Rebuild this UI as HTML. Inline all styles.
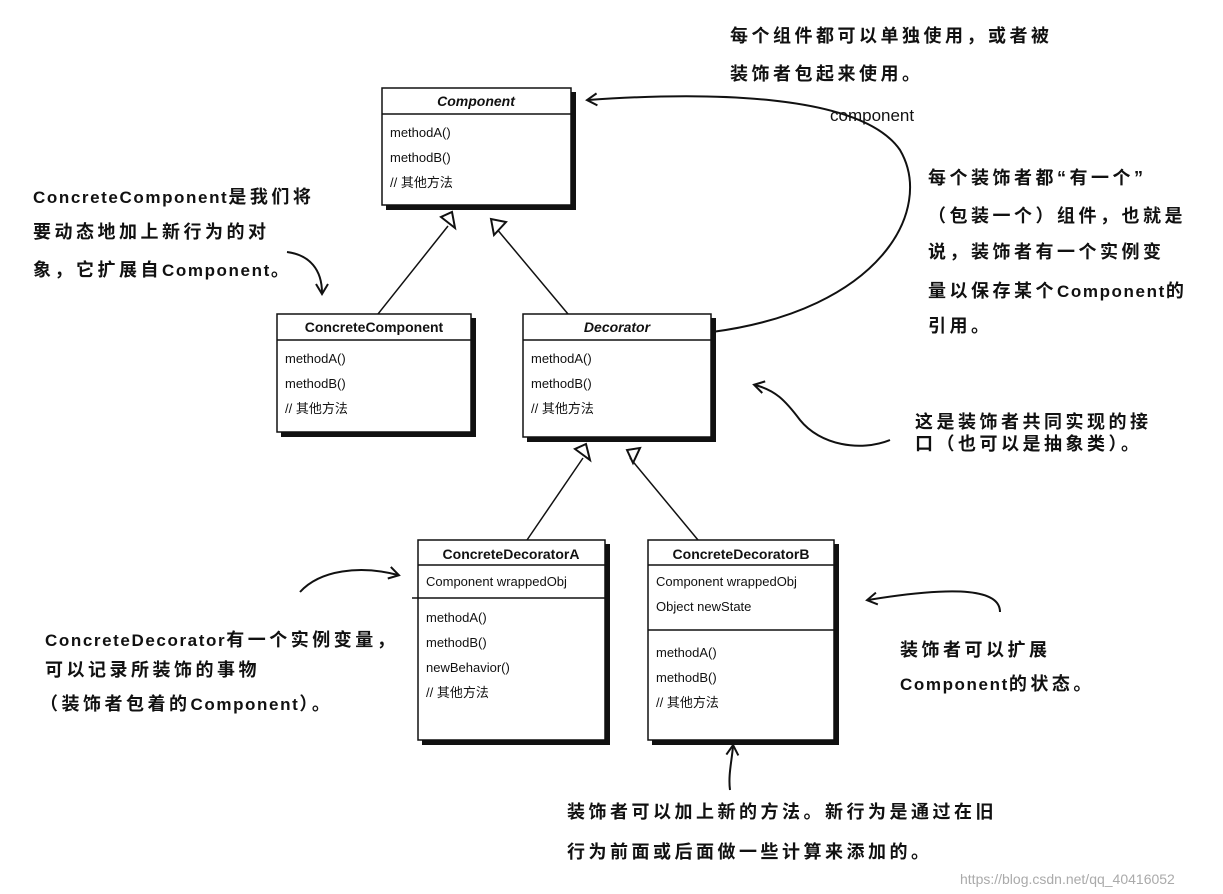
<!DOCTYPE html>
<html><head><meta charset="utf-8"><style>
body{margin:0;background:#fff;width:1223px;height:894px;overflow:hidden;position:relative}
.h{position:absolute;font-family:"Liberation Sans","WenQuanYi Zen Hei","Noto Sans CJK SC",sans-serif;font-size:18px;letter-spacing:3.5px;color:#111;white-space:nowrap;font-weight:bold}
.h i{font-style:normal;letter-spacing:1.6px;font-size:17px}
</style></head><body>
<svg width="1223" height="894" style="position:absolute;left:0;top:0" font-family="Liberation Sans, Noto Sans CJK SC, sans-serif">
<defs><marker id="o" markerWidth="14" markerHeight="14" refX="10" refY="7" orient="auto" markerUnits="userSpaceOnUse"><path d="M1,1 L11,7 L1,13" fill="none" stroke="#111" stroke-width="2"/></marker></defs>
<g stroke="#111" fill="#fff" stroke-width="1.5">
<g fill="#111" stroke="none">
<rect x="386" y="92" width="190" height="118"/><rect x="281" y="318" width="195" height="119"/><rect x="527" y="318" width="189" height="124"/><rect x="422" y="544" width="188" height="201"/><rect x="652" y="544" width="187" height="201"/></g>
<rect x="382" y="88" width="189" height="117"/><line x1="382" y1="114" x2="571" y2="114"/>
<rect x="277" y="314" width="194" height="118"/><line x1="277" y1="340" x2="471" y2="340"/>
<rect x="523" y="314" width="188" height="123"/><line x1="523" y1="340" x2="711" y2="340"/>
<rect x="418" y="540" width="187" height="200"/><line x1="418" y1="565" x2="605" y2="565"/><line x1="412" y1="598" x2="605" y2="598"/>
<rect x="648" y="540" width="186" height="200"/><line x1="648" y1="565" x2="834" y2="565"/><line x1="648" y1="630" x2="834" y2="630"/>
<line x1="378" y1="314" x2="448" y2="226"/><line x1="568" y1="314" x2="496" y2="228"/>
<line x1="527" y1="540" x2="583" y2="458"/><line x1="698" y1="540" x2="630" y2="458"/>
<path d="M441,217 L455,228 L452,212 Z M491,219 L494,235 L506,222 Z M575,449 L590,460 L586,444 Z M627,450 L633,463 L640,448 Z" fill="#fff" stroke-width="2"/>
</g>
<g fill="none" stroke="#111" stroke-width="2" marker-end="url(#o)">
<path d="M712,332 C880,310 935,210 900,150 C860,92 700,92 588,100"/>
<path d="M287,252 C310,255 322,270 322,293"/>
<path d="M890,440 C860,452 820,445 800,420 C785,400 775,390 755,385"/>
<path d="M300,592 C320,570 360,565 398,575"/>
<path d="M1000,612 C1000,590 960,585 868,600"/>
<path d="M730,790 C728,775 732,760 733,746"/>
</g>
<g font-size="13" fill="#111">
<text x="476" y="106" font-weight="bold" font-style="italic" text-anchor="middle" font-size="14">Component</text>
<text x="390" y="137">methodA()</text><text x="390" y="162">methodB()</text><text x="390" y="187">// 其他方法</text>
<text x="374" y="332" font-weight="bold" text-anchor="middle" font-size="14">ConcreteComponent</text>
<text x="285" y="363">methodA()</text><text x="285" y="388">methodB()</text><text x="285" y="413">// 其他方法</text>
<text x="617" y="332" font-weight="bold" font-style="italic" text-anchor="middle" font-size="14">Decorator</text>
<text x="531" y="363">methodA()</text><text x="531" y="388">methodB()</text><text x="531" y="413">// 其他方法</text>
<text x="511" y="559" font-weight="bold" text-anchor="middle" font-size="14">ConcreteDecoratorA</text>
<text x="426" y="586">Component wrappedObj</text>
<text x="426" y="622">methodA()</text><text x="426" y="647">methodB()</text><text x="426" y="672">newBehavior()</text><text x="426" y="697">// 其他方法</text>
<text x="741" y="559" font-weight="bold" text-anchor="middle" font-size="14">ConcreteDecoratorB</text>
<text x="656" y="586">Component wrappedObj</text><text x="656" y="611">Object newState</text>
<text x="656" y="657">methodA()</text><text x="656" y="682">methodB()</text><text x="656" y="707">// 其他方法</text>
<text x="830" y="121" font-size="17">component</text>
<text x="960" y="884" font-size="14" fill="#aaa">https://blog.csdn.net/qq_40416052</text>
</g>
</svg>
<div class="h" style="left:730px;top:22px">每个组件都可以单独使用，或者被</div>
<div class="h" style="left:730px;top:60px">装饰者包起来使用。</div>
<div class="h" style="left:928px;top:164px">每个装饰者都“有一个”</div>
<div class="h" style="left:928px;top:202px">（包装一个）组件，也就是</div>
<div class="h" style="left:928px;top:238px">说，装饰者有一个实例变</div>
<div class="h" style="left:928px;top:277px">量以保存某个<i>Component</i>的</div>
<div class="h" style="left:928px;top:312px">引用。</div>
<div class="h" style="left:33px;top:183px"><i>ConcreteComponent</i>是我们将</div>
<div class="h" style="left:33px;top:218px">要动态地加上新行为的对</div>
<div class="h" style="left:33px;top:256px">象，它扩展自<i>Component</i>。</div>
<div class="h" style="left:915px;top:408px">这是装饰者共同实现的接</div>
<div class="h" style="left:915px;top:430px">口（也可以是抽象类）。</div>
<div class="h" style="left:45px;top:626px"><i>ConcreteDecorator</i>有一个实例变量，</div>
<div class="h" style="left:45px;top:656px">可以记录所装饰的事物</div>
<div class="h" style="left:40px;top:690px">（装饰者包着的<i>Component</i>）。</div>
<div class="h" style="left:900px;top:636px">装饰者可以扩展</div>
<div class="h" style="left:900px;top:670px"><i>Component</i>的状态。</div>
<div class="h" style="left:567px;top:798px">装饰者可以加上新的方法。新行为是通过在旧</div>
<div class="h" style="left:567px;top:838px">行为前面或后面做一些计算来添加的。</div>
</body></html>
